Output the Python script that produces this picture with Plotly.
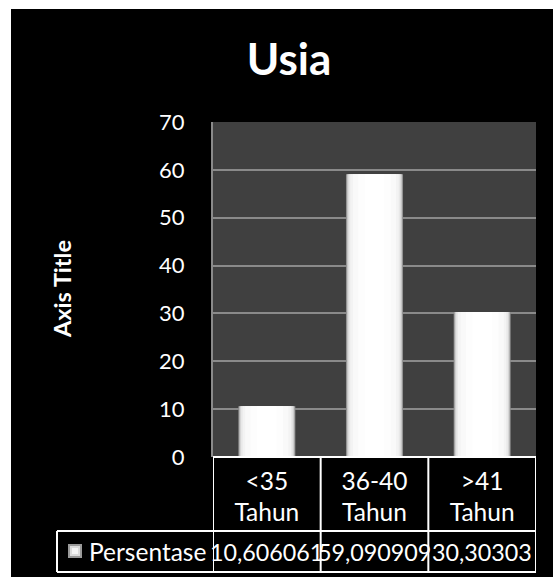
import plotly.graph_objects as go

# ---- data ----
categories = ["<35<br>Tahun", "36-40<br>Tahun", ">41<br>Tahun"]
values = [10.606061, 59.090909, 30.30303]
series_name = "Persentase"
chart_title = "Usia"
y_title = "Axis Title"
y_ticks = [0, 10, 20, 30, 40, 50, 60, 70]

# ---- geometry (pixels) ----
W, H = 553, 577
PL, PR, PT, PB = 213, 536, 122, 457


def px(x):
    return (x - PL) / (PR - PL)


def py(y):
    return (PB - y) / (PB - PT)


FONT = "Lato"
TABLE_SIZE = 24.5
VALUE_SIZE = 23.3
fig = go.Figure()

# gradient-looking bars: overlaid layers of decreasing width
layers = [(0.53, "#8a8a8a"), (0.515, "#b8b8b8"), (0.50, "#d6d6d6"),
          (0.48, "#e8e8e8"), (0.45, "#f3f3f3"), (0.40, "#f9f9f9"),
          (0.30, "#fdfdfd"), (0.18, "#ffffff")]
for w, c in layers:
    fig.add_trace(go.Bar(x=categories, y=values, width=w, marker_color=c,
                         marker_line_width=0, showlegend=False,
                         hoverinfo="skip"))

shapes = []
# white margins outside the black chart area
shapes.append(dict(type="rect", xref="paper", yref="paper",
                   x0=px(0), x1=px(11), y0=py(0), y1=py(H),
                   fillcolor="white", line_width=0, layer="above"))
shapes.append(dict(type="rect", xref="paper", yref="paper",
                   x0=px(0), x1=px(W), y0=py(0), y1=py(9),
                   fillcolor="white", line_width=0, layer="above"))

LINE = dict(color="white", width=2)
row1_bot, row2_bot, leg_left = 531, 572, 57
# table top
shapes.append(dict(type="line", xref="paper", yref="paper", x0=0, x1=1,
                   y0=0, y1=0, line=LINE, layer="above"))
# vertical separators between categories
for b in [-0.5, 0.5, 1.5, 2.5]:
    shapes.append(dict(type="line", xref="x", yref="paper", x0=b, x1=b,
                       y0=0, y1=py(row2_bot), line=LINE, layer="above"))
# horizontal lines of value row
for yy in [row1_bot, row2_bot]:
    shapes.append(dict(type="line", xref="paper", yref="paper",
                       x0=px(leg_left), x1=1, y0=py(yy), y1=py(yy),
                       line=LINE, layer="above"))
shapes.append(dict(type="line", xref="paper", yref="paper",
                   x0=px(leg_left), x1=px(leg_left), y0=py(row1_bot),
                   y1=py(row2_bot), line=LINE, layer="above"))
# legend key
shapes.append(dict(type="rect", xref="paper", yref="paper",
                   x0=px(68), x1=px(82), y0=py(558), y1=py(544),
                   fillcolor="#9a9a9a", line_width=0, layer="above"))
shapes.append(dict(type="rect", xref="paper", yref="paper",
                   x0=px(70), x1=px(80), y0=py(556), y1=py(546),
                   fillcolor="#dcdcdc", line_width=0, layer="above"))
shapes.append(dict(type="rect", xref="paper", yref="paper",
                   x0=px(72), x1=px(78), y0=py(554), y1=py(548),
                   fillcolor="#f6f6f6", line_width=0, layer="above"))

annotations = []
row2_mid = (row1_bot + row2_bot) / 2
for cat, v in zip(categories, values):
    txt = f"{v:.6f}".rstrip("0").replace(".", ",")
    txt = txt[:9]
    annotations.append(dict(x=cat, xref="x", y=py(row2_mid), yref="paper",
                            text=txt, showarrow=False, xanchor="center",
                            yanchor="middle",
                            font=dict(family=FONT, size=VALUE_SIZE,
                                      color="white")))
annotations.append(dict(x=px(87), xref="paper", y=py(row2_mid), yref="paper",
                        text=series_name, showarrow=False, xanchor="left",
                        yanchor="middle",
                        font=dict(family=FONT, size=TABLE_SIZE,
                                  color="white")))
annotations.append(dict(x=px(62), xref="paper", y=py(289), yref="paper",
                        text=y_title, textangle=-90, showarrow=False,
                        xanchor="center", yanchor="middle",
                        font=dict(family=FONT, size=23.5, color="white",
                                  weight="bold")))

fig.update_layout(
    width=W, height=H,
    margin=dict(l=PL, r=W - PR, t=PT, b=H - PB, pad=0),
    paper_bgcolor="black", plot_bgcolor="#404040",
    barmode="overlay",
    showlegend=False,
    title=dict(text=chart_title, x=289 / W, xref="container",
               xanchor="center", y=1 - 60 / H, yref="container",
               yanchor="middle",
               font=dict(family=FONT, size=44, color="white",
                         weight="bold")),
    xaxis=dict(type="category", showgrid=False, zeroline=False,
               showline=False, ticks="", tickfont=dict(family=FONT,
               size=TABLE_SIZE, color="white"), ticklabelstandoff=7,
               range=[-0.5, 2.5]),
    yaxis=dict(range=[0, 70], tickvals=y_ticks, showgrid=True,
               gridcolor="#8a8a8a", gridwidth=2, zeroline=False,
               showline=True, linecolor="#8a8a8a", linewidth=2,
               ticks="", ticklabelstandoff=22,
               tickfont=dict(family=FONT, size=22, color="white")),
    shapes=shapes, annotations=annotations,
)

fig.write_html("out.html")
